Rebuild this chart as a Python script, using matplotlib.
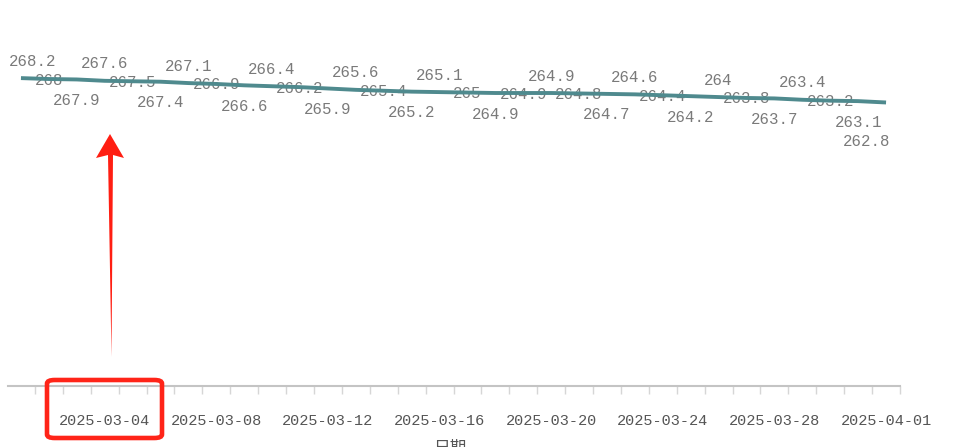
import matplotlib
matplotlib.use("Agg")
import matplotlib.pyplot as plt
import matplotlib.dates as mdates
from matplotlib.patches import FancyBboxPatch, Polygon
import numpy as np
import datetime as dt

# ---- data ----
start_date = "2025-03-01"
values = [268.2, 268.0, 267.9, 267.6, 267.5, 267.4, 267.1, 266.9, 266.6, 266.4,
          266.2, 265.9, 265.6, 265.4, 265.2, 265.1, 265.0, 264.9, 264.9, 264.9,
          264.8, 264.7, 264.6, 264.4, 264.2, 264.0, 263.8, 263.7, 263.4, 263.2,
          263.1, 262.8]
tick_dates = ["2025-03-04", "2025-03-08", "2025-03-12", "2025-03-16",
              "2025-03-20", "2025-03-24", "2025-03-28", "2025-04-01"]
x_label = "日期"
highlight_tick = "2025-03-04"

# label placement style: t=above, m=on line, b=below, B=far below
label_place = ['t', 'm', 'b'] * 6 + ['m'] + ['t', 'm', 'b'] * 4 + ['B']

dates = [dt.date.fromisoformat(start_date) + dt.timedelta(days=i) for i in range(len(values))]
xd = mdates.date2num(dates)

W, H = 965, 447
fig = plt.figure(figsize=(W / 100, H / 100), dpi=100)
ax = fig.add_axes([8 / W, 1 - 386 / H, (900 - 8) / W, 386 / H])

line_color = '#4f8a8e'
ax.plot(xd, values, color=line_color, lw=2.8, solid_capstyle='butt', zorder=3)

offsets = {'t': (0, 17), 'm': (0, -1), 'b': (0, -21), 'B': (-19, -39)}
for i, (x, v, p) in enumerate(zip(xd, values, label_place)):
    dx, dy = offsets[p]
    if i == 0:
        dx = 12
    txt = f"{v:g}"
    ax.annotate(txt, (x, v), xytext=(dx, dy), textcoords='offset pixels',
                ha='center', va='center', fontsize=11.3, family='Liberation Mono',
                color='#7a7a7a', zorder=2)

ax.set_xlim(xd[0] - 13 / 28, xd[-1] + 11 / 28)
ax.set_ylim(200, 285.5)

for s in ['top', 'right', 'left']:
    ax.spines[s].set_visible(False)
ax.spines['bottom'].set_color('#c4c4c4')
ax.spines['bottom'].set_linewidth(1.5)
ax.set_yticks([])

tick_x = mdates.date2num([dt.date.fromisoformat(d) for d in tick_dates])
ax.set_xticks(tick_x)
ax.set_xticklabels(tick_dates, family='Liberation Mono', fontsize=11, color='#555555')
ax.tick_params(axis='x', which='major', length=0, pad=20)
ax.set_xticks(xd + 0.5, minor=True)
ax.tick_params(axis='x', which='minor', length=6, width=1, color='#d6d6d6')

fig.text(450 / W, 1 - 440 / H, x_label, ha='center', va='top', fontsize=12,
         family=['Noto Sans CJK SC', 'DejaVu Sans'], color='#555555')

# red highlight box around the tick label
hx = mdates.date2num(dt.date.fromisoformat(highlight_tick))
box = FancyBboxPatch((47 / W, 1 - 438 / H), (162 - 47) / W, (438 - 380) / H,
                     boxstyle="round,pad=0,rounding_size=0.008",
                     transform=fig.transFigure, fill=False, edgecolor='#ff2418',
                     linewidth=3.3, zorder=10)
fig.patches.append(box)

# red tapered arrow (in pixel coords of figure)
def fp(px, py):
    return (px / W, 1 - py / H)

arrow_pts = [fp(111.5, 357), fp(108, 155), fp(96, 158), fp(110, 134),
             fp(124, 158), fp(113, 155)]
arr = Polygon(arrow_pts, closed=True, transform=fig.transFigure,
              facecolor='#ff1e12', edgecolor='none', zorder=10)
fig.patches.append(arr)

fig.savefig("out.png", dpi=100)
